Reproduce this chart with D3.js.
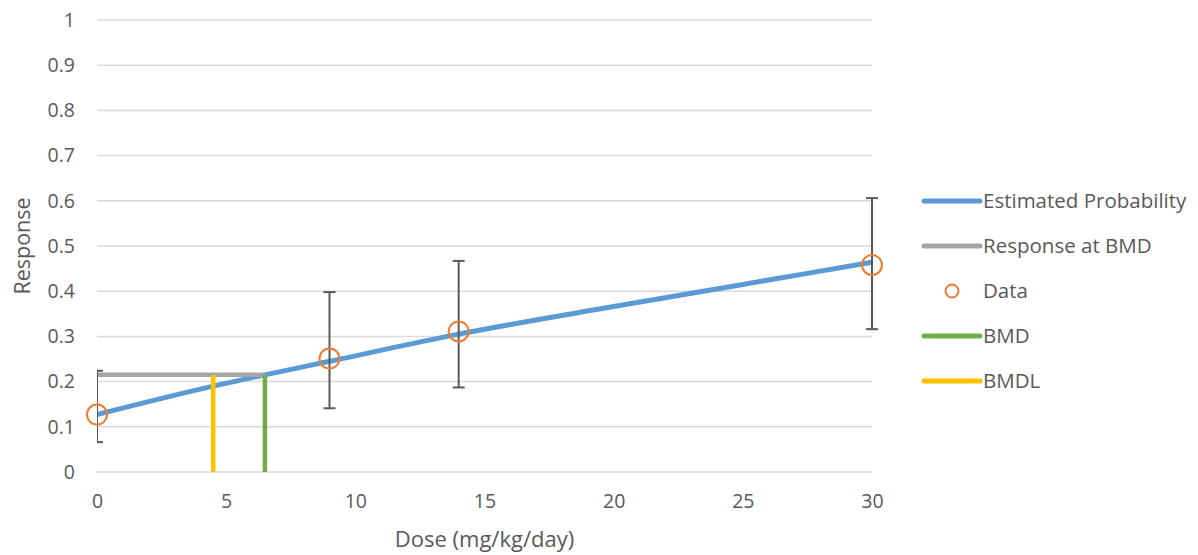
<!DOCTYPE html>
<html>
<head>
<meta charset="utf-8">
<script src="https://cdn.jsdelivr.net/npm/d3@7"></script>
<style>
  body { margin: 0; background: #fff; }
  text { font-family: "Open Sans", "Noto Sans", sans-serif; fill: #595959; }
</style>
</head>
<body>
<div id="chart"></div>
<script>

var margin = {top: 20, right: 326, bottom: 83, left: 97}
var width = 1198;
var height = 555;

// fitted curve, sampled
var curveDose = [0, 4.5, 6.5, 9, 14, 20, 25, 30];
var curveProb = [0.127, 0.190, 0.215, 0.245, 0.305, 0.366, 0.415, 0.464];

// observed data with error bars
var dataDose = [0, 9, 14, 30];
var dataResp = [0.127, 0.251, 0.311, 0.458];
var errLow = [0.066, 0.141, 0.187, 0.316];
var errHigh = [0.224, 0.398, 0.467, 0.606];

var bmd = 6.5;
var bmdl = 4.5;
var bmdResp = 0.215;

var xTicks = [0, 5, 10, 15, 20, 25, 30];
var yTicks = [0, 0.1, 0.2, 0.3, 0.4, 0.5, 0.6, 0.7, 0.8, 0.9, 1];

var legendNames = ["Estimated Probability", "Response at BMD", "Data", "BMD", "BMDL"];
var legendColors = ["#5B9BD5", "#A5A5A5", "#ED7D31", "#70AD47", "#FFC000"];

var plotW = width - margin.left - margin.right;
var plotH = height - margin.top - margin.bottom;

var svg = d3.select("#chart")
  .append("svg")
  .attr("width", width)
  .attr("height", height);

svg.append("defs").append("clipPath")
  .attr("id", "plotclip")
  .append("rect")
  .attr("x", 0).attr("y", -10)
  .attr("width", plotW + 20).attr("height", plotH + 20);

var g = svg.append("g")
  .attr("transform", "translate(" + margin.left + "," + margin.top + ")");

var xScale = d3.scaleLinear().domain([0, 30]).range([0, plotW]);
var yScale = d3.scaleLinear().domain([0, 1]).range([plotH, 0]);

// gridlines
g.selectAll(".grid")
  .data(yTicks)
  .enter()
  .append("line")
  .attr("x1", 0).attr("x2", plotW)
  .attr("y1", function(d) { return yScale(d); })
  .attr("y2", function(d) { return yScale(d); })
  .attr("stroke", "#D9D9D9")
  .attr("stroke-width", 1.5);

// axes (labels only)
var yAxis = g.append("g")
  .call(d3.axisLeft(yScale).tickValues(yTicks).tickSize(0).tickPadding(22)
    .tickFormat(function(d) { return d3.format("~g")(d); }));
yAxis.select(".domain").remove();
yAxis.selectAll("text").attr("font-size", 19.5).style("font-family", null);

var xAxis = g.append("g")
  .attr("transform", "translate(0," + plotH + ")")
  .call(d3.axisBottom(xScale).tickValues(xTicks).tickSize(0).tickPadding(22));
xAxis.select(".domain").remove();
xAxis.selectAll("text").attr("font-size", 19.5).style("font-family", null);

var plot = g.append("g").attr("clip-path", "url(#plotclip)");

// estimated probability curve
var line = d3.line()
  .x(function(d) { return xScale(d[0]); })
  .y(function(d) { return yScale(d[1]); })
  .curve(d3.curveMonotoneX);

plot.append("path")
  .datum(d3.zip(curveDose, curveProb))
  .attr("d", line)
  .attr("fill", "none")
  .attr("stroke", legendColors[0])
  .attr("stroke-width", 5);

// response at BMD
plot.append("line")
  .attr("x1", xScale(0)).attr("x2", xScale(bmd))
  .attr("y1", yScale(bmdResp)).attr("y2", yScale(bmdResp))
  .attr("stroke", legendColors[1])
  .attr("stroke-width", 4.5);

// BMD and BMDL
plot.append("line")
  .attr("x1", xScale(bmd)).attr("x2", xScale(bmd))
  .attr("y1", yScale(0)).attr("y2", yScale(bmdResp))
  .attr("stroke", legendColors[3])
  .attr("stroke-width", 4.5);

plot.append("line")
  .attr("x1", xScale(bmdl)).attr("x2", xScale(bmdl))
  .attr("y1", yScale(0)).attr("y2", yScale(bmdResp))
  .attr("stroke", legendColors[4])
  .attr("stroke-width", 4.5);

// error bars
var errs = plot.selectAll(".err")
  .data(d3.range(dataDose.length))
  .enter()
  .append("g")
  .attr("class", "err")
  .attr("stroke", "#595959")
  .attr("stroke-width", 2);

errs.append("line")
  .attr("x1", function(i) { return xScale(dataDose[i]); })
  .attr("x2", function(i) { return xScale(dataDose[i]); })
  .attr("y1", function(i) { return yScale(errLow[i]); })
  .attr("y2", function(i) { return yScale(errHigh[i]); });

errs.append("line")
  .attr("x1", function(i) { return xScale(dataDose[i]) - 6; })
  .attr("x2", function(i) { return xScale(dataDose[i]) + 6; })
  .attr("y1", function(i) { return yScale(errLow[i]); })
  .attr("y2", function(i) { return yScale(errLow[i]); });

errs.append("line")
  .attr("x1", function(i) { return xScale(dataDose[i]) - 6; })
  .attr("x2", function(i) { return xScale(dataDose[i]) + 6; })
  .attr("y1", function(i) { return yScale(errHigh[i]); })
  .attr("y2", function(i) { return yScale(errHigh[i]); });

// data points
g.selectAll(".pt")
  .data(d3.range(dataDose.length))
  .enter()
  .append("circle")
  .attr("cx", function(i) { return xScale(dataDose[i]); })
  .attr("cy", function(i) { return yScale(dataResp[i]); })
  .attr("r", 10)
  .attr("fill", "none")
  .attr("stroke", legendColors[2])
  .attr("stroke-width", 2);

// axis titles
svg.append("text")
  .attr("x", margin.left + plotW / 2)
  .attr("y", 547)
  .attr("text-anchor", "middle")
  .attr("font-size", 22)
  .text("Dose (mg/kg/day)");

svg.append("text")
  .attr("transform", "translate(30," + (margin.top + plotH / 2) + ") rotate(-90)")
  .attr("text-anchor", "middle")
  .attr("font-size", 21.5)
  .text("Response");

// legend
var legend = svg.selectAll(".legend")
  .data(legendNames)
  .enter()
  .append("g")
  .attr("class", "legend")
  .attr("transform", function(d, i) { return "translate(924," + (201 + i * 45) + ")"; });

legend.each(function(d, i) {
  var el = d3.select(this);
  if (d == "Data") {
    el.append("circle")
      .attr("cx", 28).attr("cy", 0).attr("r", 6.5)
      .attr("fill", "none")
      .attr("stroke", legendColors[i])
      .attr("stroke-width", 2);
  } else {
    el.append("line")
      .attr("x1", 0).attr("x2", 56)
      .attr("stroke", legendColors[i])
      .attr("stroke-width", 5)
      .attr("stroke-linecap", "round");
  }
  el.append("text")
    .attr("x", 59)
    .attr("dy", "0.35em")
    .attr("font-size", 20.5)
    .text(d);
});

</script>
</body>
</html>
